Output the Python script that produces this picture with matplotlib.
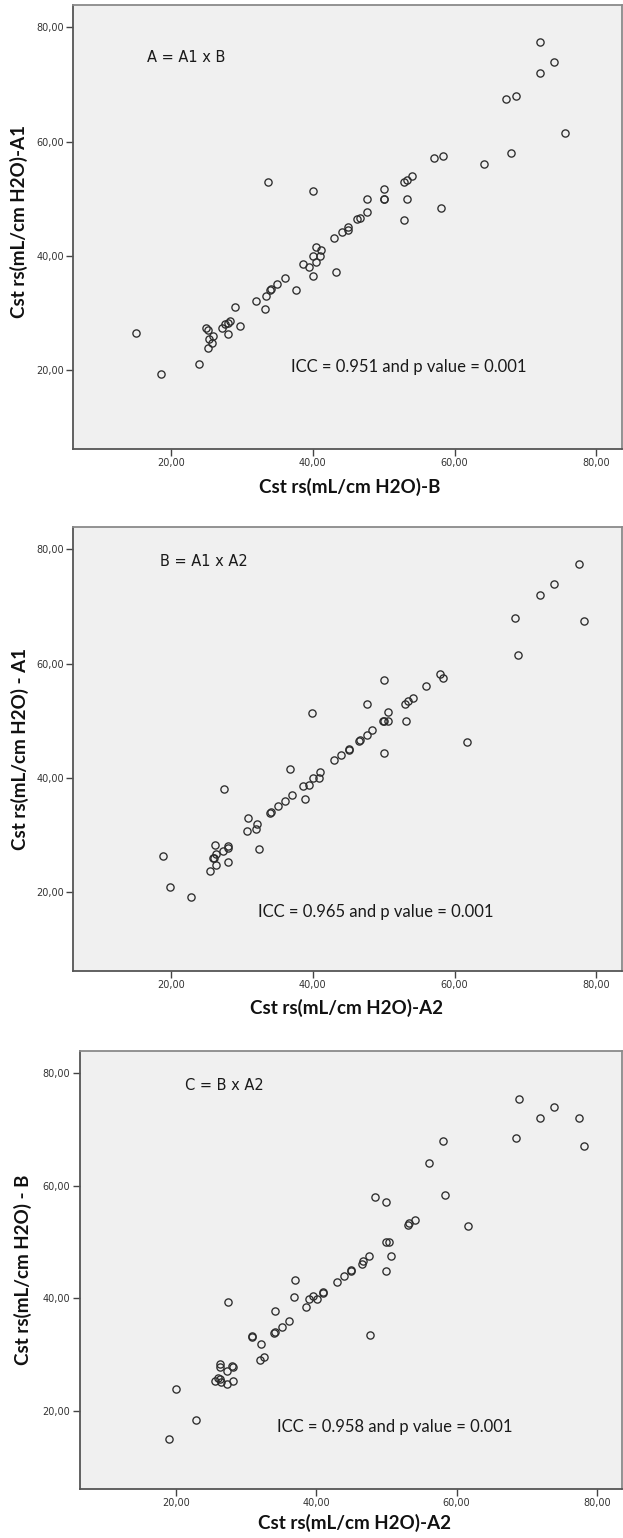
import matplotlib
matplotlib.use("Agg")
import matplotlib.pyplot as plt

# ---------------- data ----------------
ticks = [20, 40, 60, 80]
tick_labels = ["20,00", "40,00", "60,00", "80,00"]

# Panel A: A1 (y) vs B (x)
a_x = [15.1, 18.6, 24.0, 25.3, 25.85, 25.4, 26.0, 25.0, 25.2, 27.2, 27.6, 28.0, 28.3, 28.0,
       29.7, 29.0, 32.0, 33.3, 33.36, 34.1, 34.0, 35.0, 36.05, 37.7, 38.56, 39.5, 40.5, 40.0,
       43.3, 40.0, 41.0, 40.4, 41.1, 43.0, 44.1, 44.9, 45.0, 46.2, 46.7, 47.6, 47.7, 50.0,
       50.0, 50.0, 52.8, 53.3, 52.9, 53.26, 54.06, 58.05, 57.1, 58.4, 64.1, 68.0, 67.2, 68.6,
       72.07, 72.07, 74.05, 75.5, 33.65, 40.0]
a_y = [26.5, 19.3, 21.0, 23.8, 24.75, 25.45, 26.0, 27.3, 27.0, 27.3, 28.0, 28.2, 28.6, 26.3,
       27.7, 31.05, 32.05, 30.7, 33.0, 34.2, 34.0, 35.1, 36.1, 34.0, 38.6, 38.0, 38.9, 36.4,
       37.1, 40.0, 40.0, 41.6, 41.0, 43.1, 44.1, 44.5, 45.1, 46.4, 46.7, 47.6, 50.0, 50.0,
       50.0, 51.65, 46.3, 50.0, 53.0, 53.3, 54.0, 48.3, 57.1, 57.5, 56.0, 58.0, 67.4, 68.0,
       71.95, 77.5, 73.9, 61.5, 53.0, 51.4]

# Panel B: A1 (y) vs A2 (x)
b_x = [18.9, 19.9, 22.85, 25.5, 26.4, 26.0, 26.1, 26.4, 27.3, 26.2, 28.0, 28.0, 28.05, 27.5,
       30.7, 30.85, 32.0, 32.1, 32.4, 34.0, 34.05, 35.04, 36.05, 37.05, 36.8, 38.6, 39.5, 38.9,
       40.0, 40.9, 41.0, 39.94, 43.0, 44.05, 45.06, 45.06, 46.5, 46.7, 47.6, 48.3, 47.7, 50.0,
       49.9, 50.1, 50.6, 50.55, 50.0, 53.2, 53.0, 53.4, 54.07, 56.0, 58.0, 58.3, 61.7, 68.9,
       68.55, 72.0, 74.0, 77.5, 78.3]
b_y = [26.4, 20.9, 19.2, 23.7, 24.7, 26.05, 26.0, 26.75, 27.2, 28.3, 28.0, 27.8, 25.35, 38.0,
       30.7, 32.95, 31.0, 31.95, 27.6, 33.9, 34.0, 35.0, 36.0, 37.0, 41.5, 38.5, 38.8, 36.3,
       40.0, 40.0, 41.0, 51.4, 43.1, 44.0, 45.1, 44.9, 46.5, 46.6, 47.5, 48.3, 53.0, 44.4,
       50.0, 50.0, 50.0, 51.6, 57.1, 50.0, 53.0, 53.4, 54.0, 56.0, 58.1, 57.4, 46.2, 61.5,
       68.0, 71.95, 74.0, 77.5, 67.4]

# Panel C: B (y) vs A2 (x)
c_x = [18.9, 19.9, 22.8, 25.5, 25.95, 26.2, 26.45, 27.2, 28.1, 27.3, 26.2, 26.2, 28.0, 28.05,
       27.4, 30.77, 30.8, 32.07, 32.5, 32.0, 34.05, 34.0, 34.1, 35.07, 36.1, 37.0, 36.8, 38.5,
       38.9, 39.5, 40.05, 40.96, 41.0, 43.0, 44.0, 45.0, 45.0, 46.45, 46.7, 47.5, 47.65, 48.3,
       50.0, 50.0, 50.6, 49.95, 50.3, 53.0, 53.2, 54.0, 56.0, 58.0, 58.3, 61.6, 68.5, 68.9,
       71.95, 73.95, 77.4, 78.2]
c_y = [15.0, 24.0, 18.5, 25.3, 25.9, 25.7, 25.1, 24.9, 25.4, 27.2, 28.3, 27.9, 28.0, 27.9,
       39.45, 33.3, 33.2, 31.95, 29.65, 29.0, 37.7, 33.95, 34.0, 35.0, 36.0, 43.3, 40.3, 38.5,
       39.9, 40.5, 39.9, 41.0, 41.1, 43.0, 44.0, 45.1, 44.8, 46.2, 46.7, 47.5, 33.6, 58.0,
       57.1, 44.95, 47.6, 50.1, 50.1, 53.05, 53.4, 54.0, 64.0, 68.0, 58.4, 52.8, 68.5, 75.4,
       72.0, 74.0, 72.0, 67.1]

panels = [
    dict(x=a_x, y=a_y, tag="A = A1 x B", icc="ICC = 0.951 and p value = 0.001",
         xlabel="Cst rs(mL/cm H2O)-B", ylabel="Cst rs(mL/cm H2O)-A1"),
    dict(x=b_x, y=b_y, tag="B = A1 x A2", icc="ICC = 0.965 and p value = 0.001",
         xlabel="Cst rs(mL/cm H2O)-A2", ylabel="Cst rs(mL/cm H2O) - A1"),
    dict(x=c_x, y=c_y, tag="C = B x A2", icc="ICC = 0.958 and p value = 0.001",
         xlabel="Cst rs(mL/cm H2O)-A2", ylabel="Cst rs(mL/cm H2O) - B"),
]

# ---------------- layout (pixels) ----------------
W, H = 623, 1538
DPI = 100
# (left, right, top, bottom) of each axes box in pixels
boxes = [(73, 622, 5, 449), (73, 622, 527, 971), (79.5, 622, 1051, 1489)]
# text placements in pixels: tag (left, ycenter), icc (left, ycenter, width),
# xlabel (xcenter, ycenter, width), ylabel (xcenter, ycenter)
tag_pos = [(147, 57), (160, 562), (185, 1085)]
icc_pos = [(291, 367, 236), (258, 912, 236), (277, 1427, 236)]
xlab_pos = [(350, 487, 181), (347, 1008, 192), (355, 1523, 192)]
ylab_pos = [(19, 222), (20, 749), (23, 1270)]

fig = plt.figure(figsize=(W / DPI, H / DPI), dpi=DPI)
fig.patch.set_facecolor("white")


def fx(px):
    return px / W


def fy(py):
    return 1 - py / H


renderer = fig.canvas.get_renderer()


def fit_text(t, width_px):
    for _ in range(4):
        bb = t.get_window_extent(renderer=renderer)
        if bb.width <= 0:
            break
        t.set_fontsize(t.get_fontsize() * width_px / bb.width)


for p, box, tp, ip, xp, yp in zip(panels, boxes, tag_pos, icc_pos, xlab_pos, ylab_pos):
    l, r, t_, b = box
    ax = fig.add_axes([fx(l), fy(b), (r - l) / W, (b - t_) / H])
    ax.set_facecolor("#f0f0f0")
    ax.plot(p["x"], p["y"], linestyle="none", marker="o", markersize=5.2,
            markerfacecolor="none", markeredgecolor="#2b2b2b", markeredgewidth=0.95)
    ax.set_xlim(6.2, 83.6)
    ax.set_ylim(6.2, 83.9)
    ax.set_xticks(ticks)
    ax.set_xticklabels(tick_labels)
    ax.set_yticks(ticks)
    ax.set_yticklabels(tick_labels)
    ax.tick_params(direction="out", length=5, width=1.0, color="#444444",
                   labelsize=7, labelcolor="#333333", pad=1.5)
    for side in ["left", "bottom"]:
        ax.spines[side].set_color("#555555")
        ax.spines[side].set_linewidth(1.3)
    for side in ["top", "right"]:
        ax.spines[side].set_color("#8a8a8a")
        ax.spines[side].set_linewidth(1.3)

    fig.text(fx(tp[0]), fy(tp[1]), p["tag"], fontsize=10.5, color="#1a1a1a",
             ha="left", va="center", family="DejaVu Sans")
    ti = fig.text(fx(ip[0]), fy(ip[1]), p["icc"], fontsize=11, color="#1a1a1a",
                  ha="left", va="center", family=["Lato", "DejaVu Sans"])
    fit_text(ti, ip[2])
    tx = fig.text(fx(xp[0]), fy(xp[1]), p["xlabel"], fontsize=13, color="#111111",
                  ha="center", va="center", family=["Lato", "DejaVu Sans"], weight="bold")
    fit_text(tx, xp[2])
    ty = fig.text(fx(yp[0]), fy(yp[1]), p["ylabel"], fontsize=tx.get_fontsize(),
                  color="#111111", ha="center", va="center", rotation=90,
                  family=["Lato", "DejaVu Sans"], weight="bold")

fig.savefig("out.png", dpi=DPI, facecolor="white")
